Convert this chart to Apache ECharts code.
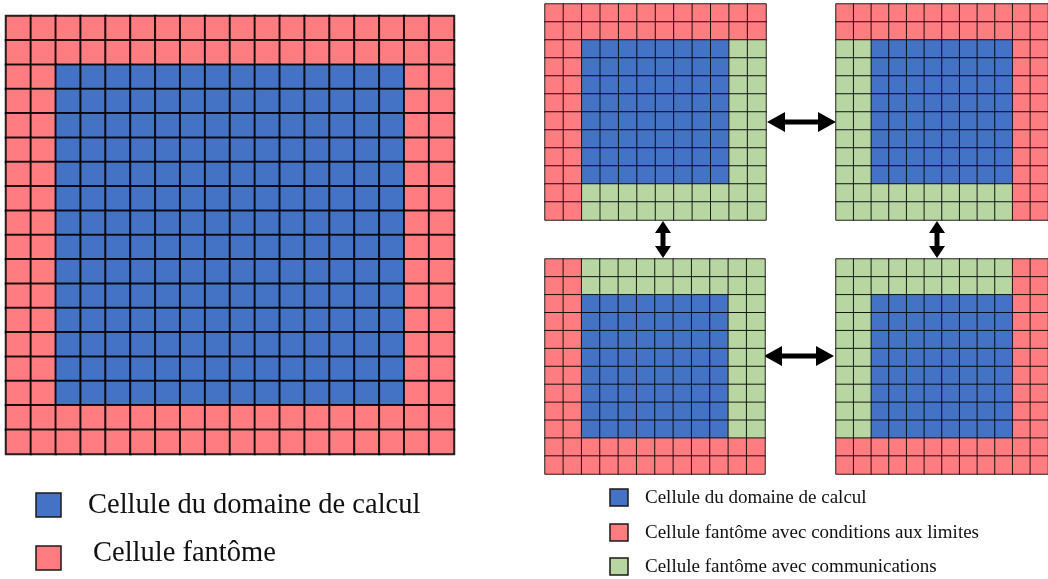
<!DOCTYPE html>
<html>
<head>
<meta charset="utf-8">
<script src="https://cdn.jsdelivr.net/npm/echarts@6/dist/echarts.min.js"></script>
<style>
  html, body { margin: 0; padding: 0; background: #fff; }
  #chart { width: 1048px; height: 579px; }
</style>
</head>
<body>
<div id="chart"></div>
<script>
// types de cellules : B = domaine, R = fantôme (limites), G = fantôme (communications)
const cellTypes = ['Cellule du domaine de calcul', 'Cellule fantôme avec conditions aux limites', 'Cellule fantôme avec communications'];
const typeCodes = { B: 0, R: 1, G: 2 };

// domaine complet (18 x 18)
const mainRows = [
    'RRRRRRRRRRRRRRRRRR',
    'RRRRRRRRRRRRRRRRRR',
    'RRBBBBBBBBBBBBBBRR',
    'RRBBBBBBBBBBBBBBRR',
    'RRBBBBBBBBBBBBBBRR',
    'RRBBBBBBBBBBBBBBRR',
    'RRBBBBBBBBBBBBBBRR',
    'RRBBBBBBBBBBBBBBRR',
    'RRBBBBBBBBBBBBBBRR',
    'RRBBBBBBBBBBBBBBRR',
    'RRBBBBBBBBBBBBBBRR',
    'RRBBBBBBBBBBBBBBRR',
    'RRBBBBBBBBBBBBBBRR',
    'RRBBBBBBBBBBBBBBRR',
    'RRBBBBBBBBBBBBBBRR',
    'RRBBBBBBBBBBBBBBRR',
    'RRRRRRRRRRRRRRRRRR',
    'RRRRRRRRRRRRRRRRRR'
];

// sous-domaines (12 x 12)
const topLeftRows = [
    'RRRRRRRRRRRR',
    'RRRRRRRRRRRR',
    'RRBBBBBBBBGG',
    'RRBBBBBBBBGG',
    'RRBBBBBBBBGG',
    'RRBBBBBBBBGG',
    'RRBBBBBBBBGG',
    'RRBBBBBBBBGG',
    'RRBBBBBBBBGG',
    'RRBBBBBBBBGG',
    'RRGGGGGGGGGG',
    'RRGGGGGGGGGG'
];
const topRightRows = [
    'RRRRRRRRRRRR',
    'RRRRRRRRRRRR',
    'GGBBBBBBBBRR',
    'GGBBBBBBBBRR',
    'GGBBBBBBBBRR',
    'GGBBBBBBBBRR',
    'GGBBBBBBBBRR',
    'GGBBBBBBBBRR',
    'GGBBBBBBBBRR',
    'GGBBBBBBBBRR',
    'GGGGGGGGGGRR',
    'GGGGGGGGGGRR'
];
const bottomLeftRows = [
    'RRGGGGGGGGGG',
    'RRGGGGGGGGGG',
    'RRBBBBBBBBGG',
    'RRBBBBBBBBGG',
    'RRBBBBBBBBGG',
    'RRBBBBBBBBGG',
    'RRBBBBBBBBGG',
    'RRBBBBBBBBGG',
    'RRBBBBBBBBGG',
    'RRBBBBBBBBGG',
    'RRRRRRRRRRRR',
    'RRRRRRRRRRRR'
];
const bottomRightRows = [
    'GGGGGGGGGGRR',
    'GGGGGGGGGGRR',
    'GGBBBBBBBBRR',
    'GGBBBBBBBBRR',
    'GGBBBBBBBBRR',
    'GGBBBBBBBBRR',
    'GGBBBBBBBBRR',
    'GGBBBBBBBBRR',
    'GGBBBBBBBBRR',
    'GGBBBBBBBBRR',
    'RRRRRRRRRRRR',
    'RRRRRRRRRRRR'
];

const typeColors = ['#4472C4', '#FF7C80', '#B8D6A2'];

const chart = echarts.init(document.getElementById('chart'));

// panneaux : lignes + position (px)
const panels = [
    { rows: mainRows, left: 6, top: 16, width: 448, height: 438, border: 2 },
    { rows: topLeftRows, left: 545, top: 4, width: 221, height: 216, border: 1 },
    { rows: topRightRows, left: 836, top: 4, width: 220, height: 216, border: 1 },
    { rows: bottomLeftRows, left: 545, top: 259, width: 220, height: 215, border: 1 },
    { rows: bottomRightRows, left: 836, top: 259, width: 219, height: 215, border: 1 }
];

// convertir les lignes en données heatmap [x, y, type]
function toCells(rows) {
    const cells = [];
    rows.forEach((row, y) => {
        row.split('').forEach((c, x) => {
            cells.push([x, y, typeCodes[c]]);
        });
    });
    return cells;
}

function indexList(n) {
    return Array.from({ length: n }, (_, i) => String(i));
}

const grids = [], xAxes = [], yAxes = [], series = [];
panels.forEach((p, i) => {
    const n = p.rows.length;
    grids.push({ left: p.left, top: p.top, width: p.width, height: p.height, show: false });
    xAxes.push({ type: 'category', gridIndex: i, data: indexList(p.rows[0].length), show: false });
    yAxes.push({ type: 'category', gridIndex: i, data: indexList(n), inverse: true, show: false });
    series.push({
        type: 'heatmap',
        xAxisIndex: i,
        yAxisIndex: i,
        data: toCells(p.rows),
        itemStyle: { borderColor: 'rgba(0,0,0,0.85)', borderWidth: p.border },
        emphasis: { disabled: true },
        silent: true
    });
});

// flèches doubles
function hArrow(x1, x2, y) {
    const hl = 18, hw = 10, st = 2.5;
    return [[x1, y], [x1 + hl, y - hw], [x1 + hl, y - st], [x2 - hl, y - st], [x2 - hl, y - hw],
            [x2, y], [x2 - hl, y + hw], [x2 - hl, y + st], [x1 + hl, y + st], [x1 + hl, y + hw]];
}
function vArrow(x, y1, y2) {
    const hl = 12, hw = 8, st = 2.5;
    return [[x, y1], [x + hw, y1 + hl], [x + st, y1 + hl], [x + st, y2 - hl], [x + hw, y2 - hl],
            [x, y2], [x - hw, y2 - hl], [x - st, y2 - hl], [x - st, y1 + hl], [x - hw, y1 + hl]];
}
const arrows = [hArrow(767, 836, 122), hArrow(764, 834, 356), vArrow(663, 221, 258), vArrow(937, 221, 258)]
    .map(pts => ({ type: 'polygon', shape: { points: pts }, style: { fill: '#000' }, silent: true }));

// légendes
const serif = '"Liberation Serif", "DejaVu Serif", serif';
function legendItem(x, y, w, h, color, text, tx, ty, size) {
    return [
        { type: 'rect', shape: { x: x, y: y, width: w, height: h },
          style: { fill: color, stroke: '#1a1a1a', lineWidth: 1.5 }, silent: true },
        { type: 'text', x: tx, y: ty,
          style: { text: text, font: size + 'px ' + serif, fill: '#111', verticalAlign: 'middle' }, silent: true }
    ];
}
const legends = [].concat(
    legendItem(36, 493, 25, 24, typeColors[0], 'Cellule du domaine de calcul', 88, 506, 28.5),
    legendItem(36, 546, 25, 24, typeColors[1], 'Cellule fantôme', 93, 554, 28.5),
    legendItem(610, 489, 18, 17, typeColors[0], cellTypes[0], 645, 498, 19),
    legendItem(610, 524, 18, 17, typeColors[1], cellTypes[1], 645, 533, 19),
    legendItem(610, 558, 18, 17, typeColors[2], cellTypes[2], 645, 567, 19)
);

const option = {
    animation: false,
    backgroundColor: '#fff',
    grid: grids,
    xAxis: xAxes,
    yAxis: yAxes,
    visualMap: {
        type: 'piecewise',
        show: false,
        dimension: 2,
        seriesIndex: [0, 1, 2, 3, 4],
        pieces: [
            { value: 0, color: typeColors[0] },
            { value: 1, color: typeColors[1] },
            { value: 2, color: typeColors[2] }
        ]
    },
    series: series,
    graphic: arrows.concat(legends)
};

chart.setOption(option);
</script>
</body>
</html>
